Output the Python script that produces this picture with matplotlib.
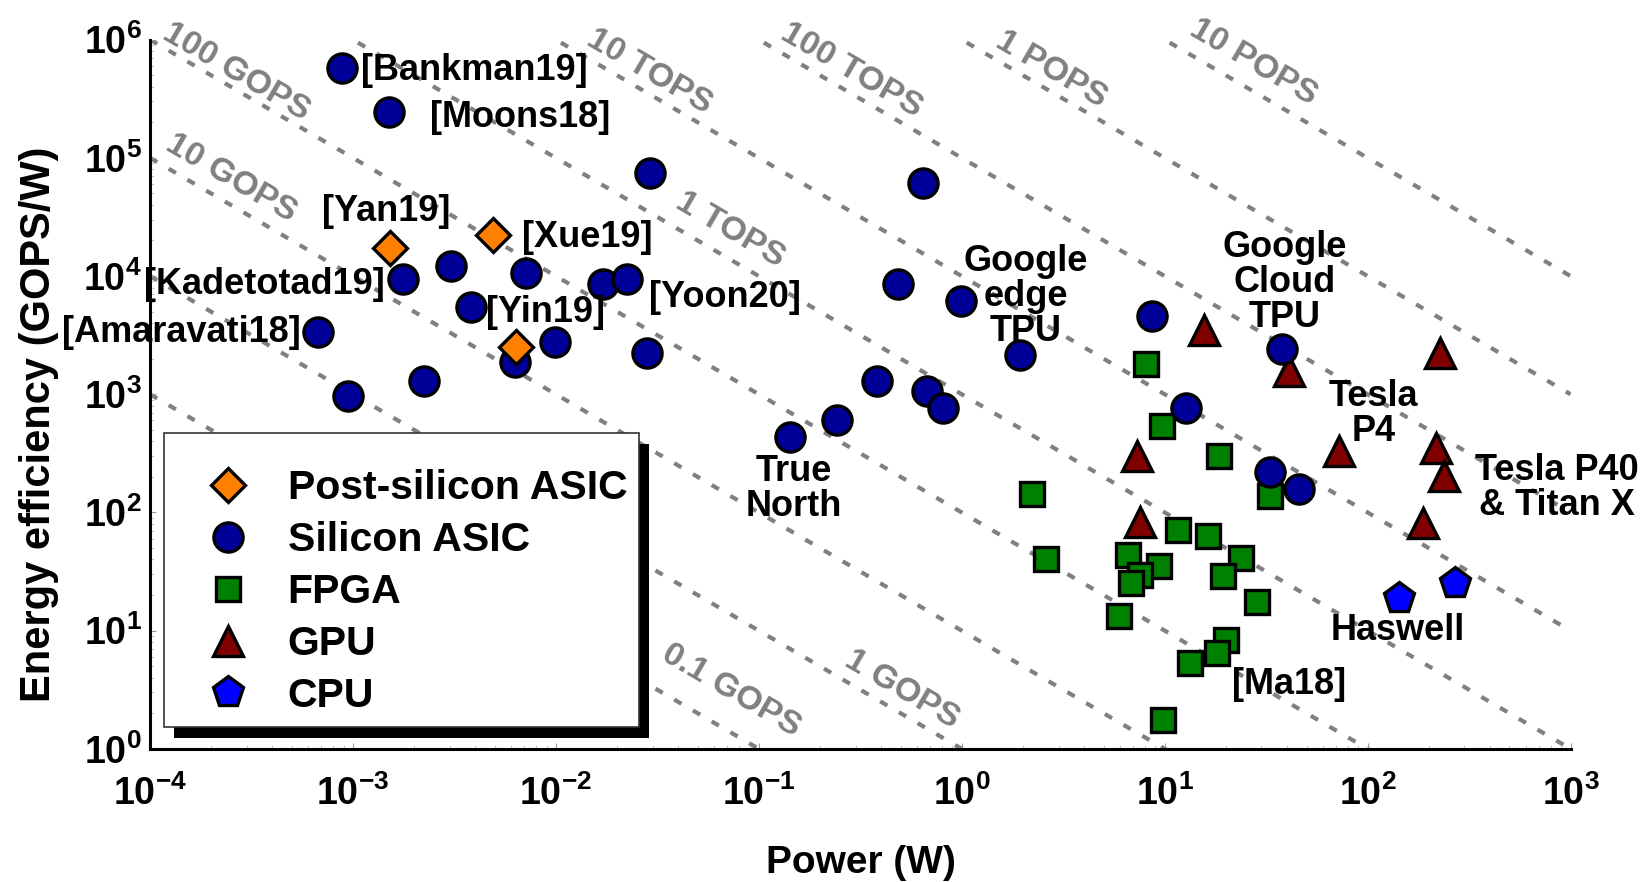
import math
import matplotlib
matplotlib.use("Agg")
import matplotlib.pyplot as plt
import matplotlib.ticker as ticker
from matplotlib.lines import Line2D
from matplotlib.patches import Rectangle

plt.rcParams["font.family"] = ["Liberation Sans", "DejaVu Sans"]
plt.rcParams["font.weight"] = "bold"
plt.rcParams["mathtext.fontset"] = "custom"
plt.rcParams["mathtext.rm"] = "Liberation Sans:bold"
plt.rcParams["mathtext.bf"] = "Liberation Sans:bold"
plt.rcParams["mathtext.it"] = "Liberation Sans:bold"
plt.rcParams["mathtext.sf"] = "Liberation Sans:bold"

# --- data (power in W, efficiency in GOPS/W) ---
post_power = [1.52e-3, 4.91e-3, 6.34e-3]
post_eff = [1.73e4, 2.24e4, 2.49e3]

asic_power = [8.79e-4, 1.50e-3, 2.90e-2, 0.646, 1.77e-3, 3.03e-3, 7.11e-3, 1.70e-2,
              2.25e-2, 3.81e-3, 6.73e-4, 9.89e-3, 6.27e-3, 2.80e-2, 9.46e-4, 2.24e-3,
              0.484, 0.991, 1.93, 0.381, 0.676, 0.809, 0.142, 0.243,
              8.65, 37.8, 12.8, 32.9, 45.8]
asic_eff = [5.75e5, 2.43e5, 7.45e4, 6.18e4, 9.44e3, 1.22e4, 1.07e4, 8.57e3,
            9.44e3, 5.47e3, 3.34e3, 2.75e3, 1.86e3, 2.24e3, 973, 1.30e3,
            8.49e3, 6.12e3, 2.15e3, 1.29e3, 1.07e3, 759, 436, 605,
            4.57e3, 2.42e3, 764, 218, 158]

fpga_power = [8.11, 9.66, 18.5, 2.21, 32.9, 2.60, 11.6, 16.4, 6.62, 9.42,
              7.52, 6.85, 23.8, 19.3, 28.6, 5.98, 20.1, 18.2, 13.4, 9.77]
fpga_eff = [1.80e3, 535, 298, 143, 137, 40.6, 71.4, 62.7, 44.0, 35.0,
            29.7, 25.2, 41.2, 28.8, 17.5, 13.2, 8.39, 6.47, 5.32, 1.76]

gpu_power = [15.6, 40.8, 228, 7.31, 72.3, 218, 239, 7.52, 188]
gpu_eff = [3.52e3, 1.56e3, 2.24e3, 298, 329, 351, 202, 82.4, 81.5]

cpu_power = [143, 269]
cpu_eff = [18.9, 25.2]

# iso-throughput lines (GOPS) and their labels
iso_gops = [0.1, 1, 10, 100, 1e3, 1e4, 1e5, 1e6, 1e7]
iso_names = ["0.1 GOPS", "1 GOPS", "10 GOPS", "100 GOPS", "1 TOPS",
             "10 TOPS", "100 TOPS", "1 POPS", "10 POPS"]
# label centres as (log10 x, log10 y)
iso_label_pos = [(-1.134, 0.492), (-0.293, 0.501), (-3.60, 4.824), (-3.576, 5.73),
                 (-1.14, 4.39), (-1.54, 5.729), (-0.544, 5.738), (0.441, 5.746),
                 (1.437, 5.805)]

# point annotations: text, log10 x, log10 y, horizontal alignment
notes = [
    ("[Bankman19]", -2.961, 5.74, "left"),
    ("[Moons18]", -2.618, 5.338, "left"),
    ("[Yan19]", -2.837, 4.547, "center"),
    ("[Xue19]", -2.165, 4.33, "left"),
    ("[Kadetotad19]", -2.845, 3.927, "right"),
    ("[Yin19]", -2.346, 3.688, "left"),
    ("[Amaravati18]", -3.255, 3.52, "right"),
    ("[Yoon20]", -1.539, 3.822, "left"),
    ("Google\nedge\nTPU", 0.316, 3.828, "center"),
    ("Google\nCloud\nTPU", 1.592, 3.947, "center"),
    ("True\nNorth", -0.827, 2.196, "center"),
    ("Tesla\nP4", 2.029, 2.836, "center"),
    ("Tesla P40\n& Titan X", 2.931, 2.209, "center"),
    ("Haswell", 2.149, 0.998, "center"),
    ("[Ma18]", 1.615, 0.544, "center"),
]

fig = plt.figure(figsize=(16.48, 8.82), dpi=100)
ax = fig.add_axes([0.091, 0.151, 0.862, 0.804])
ax.set_xscale("log")
ax.set_yscale("log")
xmin, xmax = 1e-4, 1e3
ax.set_xlim(xmin, xmax)
ax.set_ylim(1, 1e6)

# dotted iso lines
for g in iso_gops:
    ax.plot([xmin, xmax], [g / xmin, g / xmax], color="#808080", lw=3,
            linestyle=(0, (2, 3.2)), zorder=1, solid_capstyle="butt")

p1 = ax.transData.transform((1, 1))
p2 = ax.transData.transform((10, 0.1))
angle = math.degrees(math.atan2(p2[1] - p1[1], p2[0] - p1[0]))
for name, (lx, ly) in zip(iso_names, iso_label_pos):
    ax.text(10 ** lx, 10 ** ly, name, color="#808080", fontsize=24.5,
            fontweight="bold", rotation=angle, rotation_mode="anchor",
            ha="center", va="center", zorder=2, clip_on=False)

mew = 2.4
styles = {
    "post": dict(marker="D", ms=17.5, mfc="#ff8000"),
    "asic": dict(marker="o", ms=21, mfc="#000099"),
    "fpga": dict(marker="s", ms=17, mfc="#008000"),
    "gpu": dict(marker="^", ms=22, mfc="#800000"),
    "cpu": dict(marker="p", ms=23, mfc="#0000ff"),
}
ax.plot(gpu_power, gpu_eff, ls="none", mec="black", mew=mew, zorder=3, **styles["gpu"])
ax.plot(cpu_power, cpu_eff, ls="none", mec="black", mew=mew, zorder=3, **styles["cpu"])
ax.plot(fpga_power, fpga_eff, ls="none", mec="black", mew=mew, zorder=3, **styles["fpga"])
ax.plot(asic_power, asic_eff, ls="none", mec="black", mew=mew, zorder=3, **styles["asic"])
ax.plot(post_power, post_eff, ls="none", mec="black", mew=mew, zorder=3, **styles["post"])

for text, lx, ly, ha in notes:
    ax.text(10 ** lx, 10 ** ly, text, fontsize=26, fontweight="bold",
            ha=ha, va="center", multialignment="center", linespacing=1.0,
            zorder=4, clip_on=False)

# axes styling
for side in ("top", "right"):
    ax.spines[side].set_visible(False)
for side in ("left", "bottom"):
    ax.spines[side].set_linewidth(2.2)

ax.xaxis.set_major_locator(ticker.FixedLocator([10.0 ** k for k in range(-4, 4)]))
ax.xaxis.set_major_formatter(ticker.FixedFormatter(
    [r"$10^{%d}$" % k for k in range(-4, 4)]))
ax.yaxis.set_major_locator(ticker.FixedLocator([10.0 ** k for k in range(0, 7)]))
ax.yaxis.set_major_formatter(ticker.FixedFormatter(
    [r"$10^{%d}$" % k for k in range(0, 7)]))
ax.xaxis.set_minor_locator(ticker.LogLocator(base=10, subs=range(2, 10), numticks=20))
ax.yaxis.set_minor_locator(ticker.LogLocator(base=10, subs=range(2, 10), numticks=20))
ax.xaxis.set_minor_formatter(ticker.NullFormatter())
ax.yaxis.set_minor_formatter(ticker.NullFormatter())
ax.tick_params(which="major", direction="in", length=4, width=0.8, color="#999999",
               labelsize=27)
ax.tick_params(which="minor", direction="in", length=3, width=0.6, color="#bbbbbb")
ax.tick_params(axis="x", which="major", pad=19)
ax.tick_params(axis="y", which="major", pad=6)

fig.text(0.5225, 1 - 873 / 882, "Power (W)", fontsize=28, fontweight="bold",
         ha="center", va="baseline")
fig.text(50 / 1648, 1 - 424 / 882, "Energy efficiency (GOPS/W)", fontsize=30,
         fontweight="bold", rotation=90, rotation_mode="anchor",
         ha="center", va="baseline")

# legend: hand-drawn frame with a solid black drop shadow
box_x0, box_y0, box_x1, box_y1 = 0.0099, 0.031, 0.3444, 0.4457
sh_dx, sh_dy = 10 / 1420, 11 / 709
ax.add_patch(Rectangle((box_x0 + sh_dx, box_y0 - sh_dy), box_x1 - box_x0, box_y1 - box_y0,
                       transform=ax.transAxes, facecolor="black", edgecolor="none",
                       zorder=5, clip_on=False))
ax.add_patch(Rectangle((box_x0, box_y0), box_x1 - box_x0, box_y1 - box_y0,
                       transform=ax.transAxes, facecolor="white", edgecolor="#333333",
                       linewidth=1.2, zorder=5.1, clip_on=False))

handles = [Line2D([], [], ls="none", mec="black", mew=mew, **styles[k])
           for k in ("post", "asic", "fpga", "gpu", "cpu")]
leg = ax.legend(handles, ["Post-silicon ASIC", "Silicon ASIC", "FPGA", "GPU", "CPU"],
                loc="upper left", bbox_to_anchor=(0.0318, 0.3945), borderaxespad=0,
                prop={"weight": "bold", "size": 29.5}, frameon=False,
                borderpad=0, labelspacing=0.34, handlelength=1.6,
                handletextpad=0.66)
leg.set_zorder(6)

fig.savefig("out.png", dpi=100)
